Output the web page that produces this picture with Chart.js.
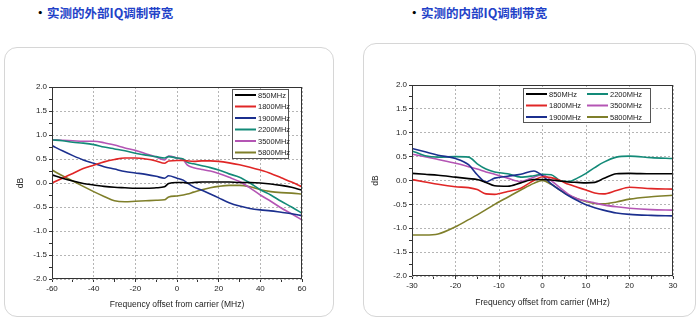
<!DOCTYPE html>
<html>
<head>
<meta charset="utf-8">
<script src="https://cdn.jsdelivr.net/npm/chart.js@4/dist/chart.umd.min.js"></script>
<style>
body { margin:0; width:700px; height:322px; background:#fff; position:relative; overflow:hidden; font-family:"Liberation Sans", Arial, sans-serif; }
.title { position:absolute; top:3px; font-family:"Noto Sans CJK SC", sans-serif; font-weight:bold; font-size:12.5px; color:#2342c8; white-space:nowrap; }
.title:before { content:"\2022"; color:#000; position:absolute; left:-13px; }
.panel { position:absolute; border:1.5px solid #d6d6d6; border-radius:13px; box-sizing:border-box; }
canvas { position:absolute; }
</style>
</head>
<body>
<div class="title" style="left:47px">实测的外部IQ调制带宽</div>
<div class="title" style="left:421px">实测的内部IQ调制带宽</div>
<div class="panel" style="left:4px;top:47px;width:330px;height:270px"></div>
<div class="panel" style="left:363px;top:43px;width:333px;height:274px"></div>
<div style="position:absolute;left:0;top:60px;width:340px;height:260px"><canvas id="extChart"></canvas></div>
<div style="position:absolute;left:355px;top:60px;width:345px;height:260px"><canvas id="intChart"></canvas></div>
<script>
var seriesNames = ['850MHz', '1800MHz', '1900MHz', '2200MHz', '3500MHz', '5800MHz'];
var seriesColors = ['#000000', '#e02626', '#1b2f8e', '#138a78', '#b455b4', '#7f7f2a'];
var yTicks = [-2.0, -1.5, -1.0, -0.5, 0.0, 0.5, 1.0, 1.5, 2.0];

// external IQ, offset -60..60 MHz
var extX = [-60,-55,-50,-45,-40,-35,-30,-25,-20,-15,-10,-6,-4,0,3,5,8,12,16,20,25,30,35,40,45,50,55,60];
var ext850  = [0.17,0.1,0.04,-0.01,-0.04,-0.07,-0.09,-0.1,-0.11,-0.11,-0.1,-0.08,-0.01,0.01,0.01,0.0,0.01,0.02,0.02,0.02,0.02,0.01,0.01,0.0,-0.02,-0.05,-0.09,-0.15];
var ext1800 = [0.0,0.1,0.2,0.3,0.37,0.44,0.49,0.52,0.52,0.5,0.46,0.41,0.46,0.47,0.47,0.46,0.45,0.46,0.46,0.45,0.42,0.38,0.33,0.27,0.2,0.11,0.02,-0.08];
var ext1900 = [0.78,0.67,0.57,0.48,0.41,0.34,0.29,0.24,0.21,0.18,0.14,0.1,0.15,0.1,0.06,0.0,-0.08,-0.15,-0.23,-0.31,-0.41,-0.48,-0.53,-0.56,-0.58,-0.61,-0.64,-0.68];
var ext2200 = [0.9,0.88,0.85,0.83,0.8,0.75,0.71,0.67,0.62,0.58,0.55,0.52,0.55,0.52,0.5,0.43,0.4,0.36,0.32,0.27,0.19,0.12,0.0,-0.14,-0.25,-0.38,-0.5,-0.63];
var ext3500 = [0.9,0.89,0.88,0.87,0.87,0.84,0.79,0.73,0.68,0.61,0.54,0.48,0.56,0.52,0.48,0.37,0.32,0.28,0.25,0.2,0.12,0.03,-0.1,-0.25,-0.38,-0.52,-0.64,-0.77];
var ext5800 = [0.27,0.15,0.04,-0.07,-0.18,-0.28,-0.37,-0.39,-0.38,-0.37,-0.36,-0.35,-0.29,-0.27,-0.25,-0.23,-0.19,-0.14,-0.1,-0.07,-0.05,-0.05,-0.08,-0.14,-0.18,-0.2,-0.21,-0.23];

// internal IQ, offset -30..30 MHz
var intX = [-30,-27,-24,-20,-17,-15,-13,-11,-8,-5,-2,0,2,4,6,8,10,12,14,17,20,25,30];
var int850  = [0.15,0.13,0.11,0.07,0.04,0.02,-0.04,-0.11,-0.12,-0.05,0.02,0.02,0.01,-0.01,-0.03,-0.04,-0.05,-0.04,0.04,0.14,0.15,0.14,0.14];
var int1800 = [0.02,-0.03,-0.08,-0.13,-0.15,-0.19,-0.28,-0.29,-0.23,-0.16,0.0,0.08,0.06,0.0,-0.08,-0.14,-0.2,-0.26,-0.28,-0.21,-0.14,-0.17,-0.18];
var int1900 = [0.67,0.6,0.53,0.46,0.33,0.12,-0.03,0.05,0.09,0.13,0.2,0.1,-0.07,-0.2,-0.32,-0.42,-0.51,-0.57,-0.62,-0.68,-0.71,-0.73,-0.74];
var int2200 = [0.62,0.52,0.49,0.5,0.49,0.35,0.24,0.18,0.14,0.07,0.1,0.13,0.12,0.0,-0.02,0.05,0.15,0.27,0.38,0.49,0.51,0.48,0.46];
var int3500 = [0.55,0.5,0.44,0.36,0.29,0.24,0.18,0.13,0.05,-0.02,0.07,0.12,0.0,-0.15,-0.29,-0.38,-0.43,-0.47,-0.51,-0.55,-0.58,-0.61,-0.62];
var int5800 = [-1.14,-1.14,-1.12,-0.97,-0.82,-0.72,-0.61,-0.5,-0.35,-0.2,-0.06,0.0,-0.08,-0.2,-0.31,-0.38,-0.44,-0.48,-0.49,-0.45,-0.39,-0.34,-0.31];

function makeSets(xs, ys){
    return ys.map((vals, i) => ({
        label: seriesNames[i],
        data: vals.map((v, j) => ({x: xs[j], y: v})),
        borderColor: seriesColors[i],
        borderWidth: 1.6,
        pointRadius: 0,
        cubicInterpolationMode: 'monotone',
        fill: false
    }));
}

// frame round the plot and legend box inside it
var framePlugin = {
    id: 'frame',
    afterDatasetsDraw(chart, args, opts){
        var c = chart.ctx, a = chart.chartArea;
        c.save();
        c.strokeStyle = '#333';
        c.lineWidth = 1;
        c.strokeRect(a.left + 0.5, a.top + 0.5, a.right - a.left - 1, a.bottom - a.top - 1);

        var L = opts.legend;
        var x0 = a.right - L.right - L.w, y0 = a.top + L.top;
        c.fillStyle = '#fff';
        c.fillRect(x0, y0, L.w, L.h);
        c.strokeStyle = '#555';
        c.strokeRect(x0 + 0.5, y0 + 0.5, L.w - 1, L.h - 1);
        c.font = '7.5px "Liberation Sans", Arial, sans-serif';
        c.textBaseline = 'middle';
        chart.data.datasets.forEach((ds, i) => {
            var col = Math.floor(i / L.rows), row = i % L.rows;
            var lx = x0 + 3 + col * L.colW, ly = y0 + 6 + row * L.rowH;
            c.strokeStyle = ds.borderColor;
            c.lineWidth = 2;
            c.beginPath();
            c.moveTo(lx, ly);
            c.lineTo(lx + 21, ly);
            c.stroke();
            c.fillStyle = '#222';
            c.fillText(ds.label, lx + 23, ly + 0.5);
        });
        c.restore();
    }
};

function buildChart(id, xs, ys, xMin, xMax, xMajor, xMinor, pad, yWidth, xHeight, legend){
    var ctx = document.getElementById(id).getContext('2d');
    var tickFont = {family: '"Liberation Sans", Arial, sans-serif', size: 8};
    return new Chart(ctx, {
        type: 'line',
        data: { datasets: makeSets(xs, ys) },
        plugins: [framePlugin],
        options: {
            responsive: true,
            maintainAspectRatio: false,
            animation: false,
            layout: { padding: pad },
            plugins: {
                legend: { display: false },
                tooltip: { enabled: false },
                frame: { legend: legend }
            },
            scales: {
                x: {
                    type: 'linear',
                    min: xMin, max: xMax,
                    afterFit: s => { s.height = xHeight },
                    ticks: {
                        stepSize: xMinor,
                        autoSkip: false,
                        maxRotation: 0,
                        color: '#222',
                        font: tickFont,
                        padding: 2,
                        callback: v => (Math.abs(v % xMajor) < 1e-6 ? String(v) : '')
                    },
                    grid: {
                        color: c => (Math.abs(c.tick.value % xMajor) < 1e-6 ? '#b5b5b5' : 'rgba(0,0,0,0)'),
                        tickColor: '#333',
                        tickLength: 3,
                        lineWidth: 1
                    },
                    border: { display: false, dash: [2, 2] },
                    title: {
                        display: true,
                        text: 'Frequency offset from carrier (MHz)',
                        color: '#222',
                        font: {family: '"Liberation Sans", Arial, sans-serif', size: 8.5},
                        padding: 0
                    }
                },
                y: {
                    min: -2, max: 2,
                    afterFit: s => { s.width = yWidth },
                    ticks: {
                        stepSize: 0.25,
                        autoSkip: false,
                        color: '#222',
                        font: tickFont,
                        padding: 2,
                        callback: v => (yTicks.some(t => Math.abs(t - v) < 1e-6) ? v.toFixed(1) : '')
                    },
                    grid: {
                        color: c => (yTicks.some(t => Math.abs(t - c.tick.value) < 1e-6) ? '#b5b5b5' : 'rgba(0,0,0,0)'),
                        tickColor: '#333',
                        tickLength: 3,
                        lineWidth: 1
                    },
                    border: { display: false, dash: [2, 2] },
                    title: {
                        display: true,
                        text: 'dB',
                        color: '#222',
                        font: {family: '"Liberation Sans", Arial, sans-serif', size: 8.5},
                        padding: 0
                    }
                }
            }
        }
    });
}

buildChart('extChart', extX, [ext850, ext1800, ext1900, ext2200, ext3500, ext5800],
    -60, 60, 20, 10,
    {top: 27, right: 38, left: 16, bottom: 10}, 36, 31,
    {w: 57, h: 70, right: 13, top: 2, rows: 6, rowH: 11.5, colW: 0});

buildChart('intChart', intX, [int850, int1800, int1900, int2200, int3500, int5800],
    -30, 30, 10, 5,
    {top: 25, right: 27, left: 16, bottom: 12}, 41, 32,
    {w: 128, h: 35, right: 22, top: 3, rows: 3, rowH: 11.5, colW: 61});
</script>
</body>
</html>
